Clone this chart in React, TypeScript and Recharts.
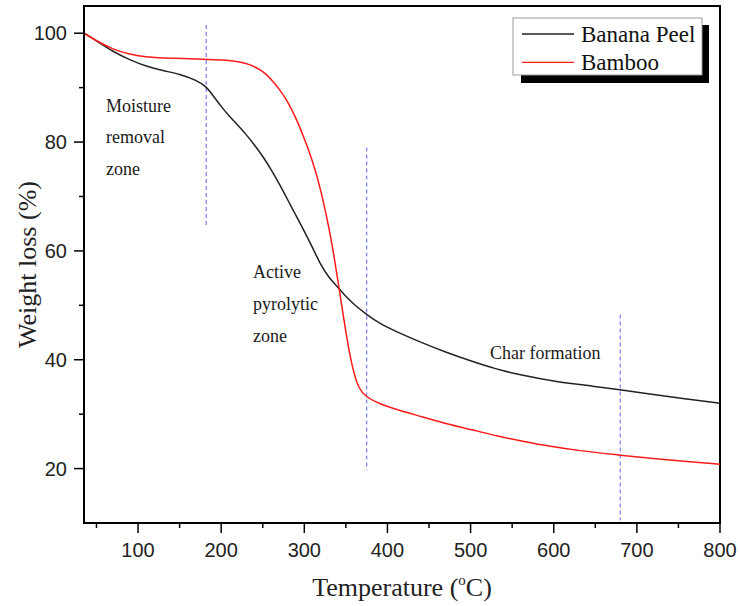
import React from "react";
import { LineChart, Line, XAxis, YAxis, ReferenceLine, ReferenceArea } from "recharts";

// TGA curves
const bananaTemp = [35, 50, 70, 90, 110, 130, 150, 170, 182, 190, 200, 210, 220, 230, 240, 250, 260, 270, 280, 290, 300, 310, 320, 330, 340, 350, 360, 375, 390, 410, 440, 470, 500, 530, 560, 600, 650, 680, 720, 760, 800];
const bananaWeight = [100, 98.6, 96.6, 95.1, 93.9, 93.1, 92.5, 91.4, 90.2, 88.6, 86.5, 84.7, 83.1, 81.4, 79.5, 77.4, 75.0, 72.3, 69.4, 66.5, 63.6, 60.6, 57.3, 55.0, 53.4, 51.6, 50.1, 48.3, 46.7, 45.2, 43.2, 41.4, 39.8, 38.3, 37.2, 36.0, 35.1, 34.5, 33.6, 32.8, 32.0];

const bambooTemp = [35, 50, 70, 90, 110, 140, 182, 200, 222, 234, 246, 254, 262, 270, 280, 290, 300, 310, 320, 330, 335, 342, 350, 358, 366, 374, 390, 414, 440, 474, 500, 534, 560, 594, 630, 678, 720, 760, 800];
const bambooWeight = [100, 98.6, 97.0, 96.1, 95.6, 95.4, 95.2, 95.1, 94.8, 94.3, 93.4, 92.5, 91.2, 89.7, 87.5, 84.4, 80.7, 76.5, 71.2, 64.0, 59.8, 53.0, 44.9, 38.2, 34.5, 33.2, 31.9, 30.7, 29.6, 28.1, 27.2, 25.9, 25.1, 24.1, 23.3, 22.5, 21.8, 21.3, 20.8];

const seriesNames = ["Banana Peel", "Bamboo"];
const seriesColors = ["#222222", "#ff1a1a"];

// zone boundaries: [temperature, top, bottom]
const zoneTemps = [182, 375, 680];
const zoneTops = [101.5, 79, 48.3];
const zoneBottoms = [64.2, 19.7, 10.5];

const xTicks = [50, 100, 150, 200, 250, 300, 350, 400, 450, 500, 550, 600, 650, 700, 750, 800];
const yTicks = [20, 30, 40, 50, 60, 70, 80, 90, 100];

const banana = bananaTemp.map((t, i) => ({ t, v: bananaWeight[i] }));
const bamboo = bambooTemp.map((t, i) => ({ t, v: bambooWeight[i] }));

const SERIF = '"Liberation Serif", "Times New Roman", serif';
const SANS = '"Liberation Sans", Arial, sans-serif';

const XTick = (props: any) => {
  const { x, y, payload } = props;
  const major = payload.value % 100 === 0;
  const axisY = y - 17;
  return (
    <g>
      <line x1={x} x2={x} y1={axisY} y2={axisY + (major ? 10 : 5)} stroke="#000" strokeWidth={1.5} />
      {major && (
        <text x={x} y={axisY + 34} textAnchor="middle" fontFamily={SANS} fontSize={20} fill="#222">
          {payload.value}
        </text>
      )}
    </g>
  );
};

const YTick = (props: any) => {
  const { x, y, payload } = props;
  const major = payload.value % 20 === 0;
  const axisX = x + 17;
  return (
    <g>
      <line x1={axisX - (major ? 10 : 5)} x2={axisX} y1={y} y2={y} stroke="#000" strokeWidth={1.5} />
      {major && (
        <text x={x} y={y + 7} textAnchor="end" fontFamily={SANS} fontSize={20} fill="#222">
          {payload.value}
        </text>
      )}
    </g>
  );
};

const Notes = () => (
  <svg width={740} height={606} style={{ position: "absolute", left: 0, top: 0, pointerEvents: "none" }}>
    <g fontFamily={SERIF} fontSize={18} fill="#1a1a1a">
      <text x={106} y={112}>Moisture</text>
      <text x={106} y={143}>removal</text>
      <text x={106} y={175}>zone</text>
      <text x={253} y={278}>Active</text>
      <text x={253} y={310}>pyrolytic</text>
      <text x={253} y={342}>zone</text>
      <text x={490} y={359}>Char formation</text>
    </g>
    <rect x={521} y={25} width={188} height={58} fill="#000" />
    <rect x={513} y={18} width={189} height={57} fill="#fff" stroke="#999" strokeWidth={1} />
    {seriesNames.map((name, i) => (
      <g key={name}>
        <line x1={522} x2={574} y1={34 + i * 28.3} y2={34 + i * 28.3} stroke={seriesColors[i]} strokeWidth={1.3} />
        <text x={581} y={42 + i * 28.3} fontFamily={SERIF} fontSize={23} fill="#111">
          {name}
        </text>
      </g>
    ))}
  </svg>
);

export default function App() {
  return (
    <div style={{ position: "absolute", left: 0, top: 0, width: 740, height: 606, background: "#fff" }}>
      <LineChart width={740} height={606} margin={{ top: 6, right: 20, bottom: 0, left: 0 }}>
        <XAxis
          dataKey="t"
          type="number"
          domain={[35, 800]}
          ticks={xTicks}
          interval={0}
          allowDataOverflow
          height={83}
          tickSize={10}
          tickMargin={7}
          tickLine={false}
          tick={<XTick />}
          axisLine={{ stroke: "#000", strokeWidth: 2 }}
          label={{
            content: (p: any) => {
              const vb = p.viewBox;
              return (
                <text x={vb.x + vb.width / 2} y={vb.y + 73} textAnchor="middle" fontFamily={SERIF} fontSize={26} fill="#222">
                  Temperature (
                  <tspan dy={-11} fontSize={15}>o</tspan>
                  <tspan dy={11}>C)</tspan>
                </text>
              );
            },
          }}
        />
        <YAxis
          dataKey="v"
          type="number"
          domain={[10, 105]}
          ticks={yTicks}
          interval={0}
          allowDataOverflow
          width={84}
          tickSize={10}
          tickMargin={7}
          tickLine={false}
          tick={<YTick />}
          axisLine={{ stroke: "#000", strokeWidth: 2 }}
          label={{
            content: (p: any) => {
              const vb = p.viewBox;
              const cy = vb.y + vb.height / 2;
              return (
                <text x={36} y={cy} transform={`rotate(-90, 36, ${cy})`} textAnchor="middle" fontFamily={SERIF} fontSize={26} fill="#222">
                  Weight loss (%)
                </text>
              );
            },
          }}
        />
        <ReferenceArea x1={35} x2={800} y1={10} y2={105} fill="none" stroke="#000" strokeWidth={2} />
        {zoneTemps.map((t, i) => (
          <ReferenceLine
            key={t}
            segment={[{ x: t, y: zoneTops[i] }, { x: t, y: zoneBottoms[i] }]}
            stroke="#7a7aff"
            strokeDasharray="4 3"
            strokeWidth={1.2}
          />
        ))}
        <Line data={banana} dataKey="v" name={seriesNames[0]} type="basis" stroke={seriesColors[0]} strokeWidth={1.5} dot={false} isAnimationActive={false} />
        <Line data={bamboo} dataKey="v" name={seriesNames[1]} type="basis" stroke={seriesColors[1]} strokeWidth={1.5} dot={false} isAnimationActive={false} />
      </LineChart>
      <Notes />
    </div>
  );
}
